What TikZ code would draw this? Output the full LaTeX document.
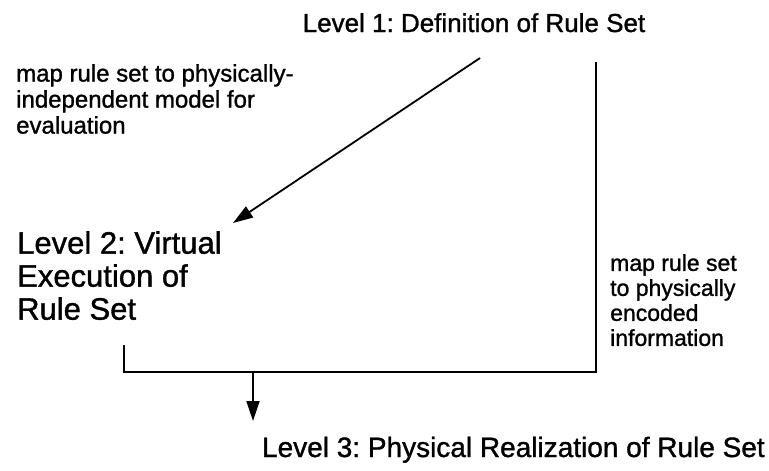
\documentclass[tikz,border=0pt]{standalone}
\usepackage{fontspec}
\setmainfont{Liberation Sans}[FakeBold=1.2]
\usetikzlibrary{arrows.meta,positioning}
\frenchspacing

\begin{document}
\begin{tikzpicture}[x=1pt,y=-1pt,
    level/.style={font=\fontsize{28}{33}\selectfont, align=left, inner sep=0pt},
    note/.style={font=\fontsize{24}{26}\selectfont, align=left, inner sep=0pt},
    sidenote/.style={font=\fontsize{23}{25}\selectfont, align=left, inner sep=0pt},
    link/.style={line width=1.8pt},
    arrowlink/.style={link, -{Triangle[length=20pt,width=13pt]}}]
  \useasboundingbox (0,0) rectangle (769,471);

  % levels
  \node[level, font=\fontsize{26}{33}\selectfont, anchor=base] (lvlone) at (474,32) {Level 1: Definition of Rule Set};
  \node[level, font=\fontsize{31}{33}\selectfont, anchor=north west] (lvltwo) at (17,231) {Level 2: Virtual\\Execution of\\Rule Set};
  \node[level, anchor=base east] (lvlthree) at (765,457) {Level 3: Physical Realization of Rule Set};

  % mapping notes
  \node[note, anchor=north west] (mapvirt) at (16,64) {map rule set to physically-\\independent model for\\evaluation};
  \node[sidenote, anchor=north west] (mapphys) at (610,254) {map rule set\\to physically\\encoded\\information};

  % connectors
  \coordinate (diagtop) at (480,58);
  \coordinate (diagend) at (233,223);
  \coordinate (righttop) at (596,62);
  \coordinate (rightbot) at (596,372);
  \coordinate (lefttop) at (124,345);
  \coordinate (leftbot) at (124,372);
  \coordinate (drop) at (253,372);
  \coordinate (dropend) at (253,421);

  \draw[arrowlink] (diagtop) -- (diagend);
  \draw[link] (righttop) -- (rightbot) -- (leftbot) -- (lefttop);
  \draw[arrowlink] (drop) -- (dropend);
\end{tikzpicture}
\end{document}
